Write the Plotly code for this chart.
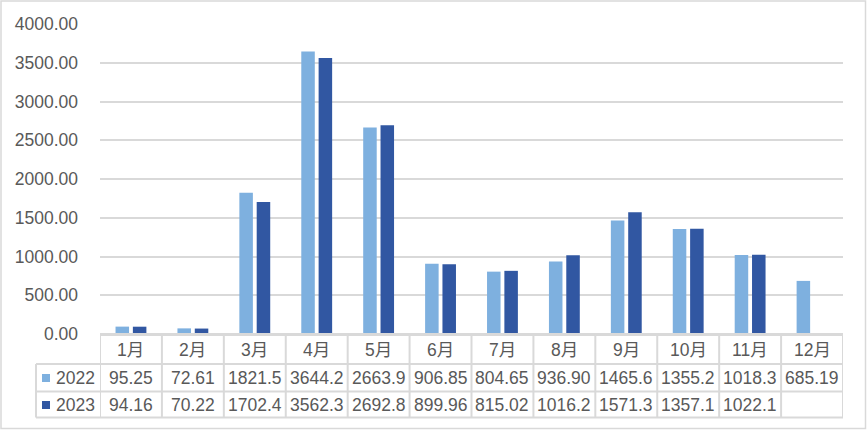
import plotly.graph_objects as go

months = ["1月", "2月", "3月", "4月", "5月", "6月", "7月", "8月", "9月", "10月", "11月", "12月"]
series_names = ["2022", "2023"]
values_2022 = [95.25, 72.61, 1821.5, 3644.2, 2663.9, 906.85, 804.65, 936.90, 1465.6, 1355.2, 1018.3, 685.19]
values_2023 = [94.16, 70.22, 1702.4, 3562.3, 2692.8, 899.96, 815.02, 1016.2, 1571.3, 1357.1, 1022.1, None]
y_ticks = [0, 500, 1000, 1500, 2000, 2500, 3000, 3500, 4000]

colors = ["#7EB0DF", "#3157A2"]
grid = "#D9D9D9"
txt = "#595959"
FONT = "Liberation Sans, Noto Sans CJK SC, Arial, sans-serif"
FS = 17.5

W, H = 867, 430
ML, MR, MT, MB = 100, 24, 24, 96
PW, PH = W - ML - MR, H - MT - MB
Y0 = H - MB  # pixel of zero line


def fx(px):
    return (px - ML) / PW


def fy(py):
    return (Y0 - py) / PH


def fmt(v):
    if v is None:
        return ""
    return f"{v:.1f}" if v >= 1000 else f"{v:.2f}"


fig = go.Figure()
for name, vals, c in zip(series_names, [values_2022, values_2023], colors):
    fig.add_trace(go.Bar(x=months, y=vals, name=name, marker_color=c,
                         marker_line_width=0, showlegend=False, hoverinfo="skip"))

fig.update_layout(
    width=W, height=H,
    margin=dict(l=ML, r=MR, t=MT, b=MB),
    paper_bgcolor="white", plot_bgcolor="white",
    barmode="group", bargap=0.44, bargroupgap=0.22,
    font=dict(family=FONT, size=FS, color=txt),
)
fig.update_yaxes(range=[0, 4000], tickvals=y_ticks, tickformat=".2f",
                 showgrid=True, gridcolor=grid, gridwidth=2,
                 zeroline=False, showline=False, ticks="",
                 ticklabelstandoff=21,
                 tickfont=dict(family=FONT, size=FS, color=txt))
fig.update_xaxes(showticklabels=False, showgrid=False, zeroline=False,
                 showline=True, linecolor=grid, linewidth=2, ticks="",
                 range=[-0.5, len(months) - 0.5])

# table geometry (pixels)
row_lines = [Y0, 364, 391.5, 417.5]
row_centers = [349.5, 378, 405]
left_px = 36

shapes = []
for i, ry in enumerate(row_lines):
    x0 = fx(ML) if i == 0 else fx(left_px)
    shapes.append(dict(type="line", xref="paper", yref="paper",
                       x0=x0, x1=1, y0=fy(ry), y1=fy(ry),
                       line=dict(color=grid, width=2)))
for i in range(len(months) + 1):
    shapes.append(dict(type="line", xref="x", yref="paper",
                       x0=i - 0.5, x1=i - 0.5, y0=fy(Y0), y1=fy(row_lines[-1]),
                       line=dict(color=grid, width=2)))
shapes.append(dict(type="line", xref="paper", yref="paper",
                   x0=fx(left_px), x1=fx(left_px), y0=fy(row_lines[1]), y1=fy(row_lines[-1]),
                   line=dict(color=grid, width=2)))
shapes.append(dict(type="rect", xref="paper", yref="paper",
                   x0=fx(1), x1=fx(W - 1.5), y0=fy(1), y1=fy(H - 1.5),
                   line=dict(color=grid, width=1.5)))

annotations = []
for m in months:
    annotations.append(dict(x=m, xref="x", y=fy(row_centers[0]), yref="paper",
                            text=m, showarrow=False, xanchor="center", yanchor="middle",
                            font=dict(family=FONT, size=FS, color=txt)))
for r, (name, vals, c) in enumerate(zip(series_names, [values_2022, values_2023], colors)):
    cy = row_centers[r + 1]
    for m, v in zip(months, vals):
        annotations.append(dict(x=m, xref="x", y=fy(cy), yref="paper",
                                text=fmt(v), showarrow=False, xanchor="center", yanchor="middle",
                                font=dict(family=FONT, size=FS, color=txt)))
    shapes.append(dict(type="rect", xref="paper", yref="paper",
                       x0=fx(42), x1=fx(50), y0=fy(cy - 4), y1=fy(cy + 4),
                       fillcolor=c, line=dict(width=0)))
    annotations.append(dict(x=fx(54), xref="paper", y=fy(cy), yref="paper",
                            text=name, showarrow=False, xanchor="left", yanchor="middle",
                            font=dict(family=FONT, size=FS, color=txt)))

fig.update_layout(shapes=shapes, annotations=annotations)
fig.write_html("out.html", config={"displayModeBar": False},
               post_script="document.body.style.margin='0';document.body.style.padding='0';")
